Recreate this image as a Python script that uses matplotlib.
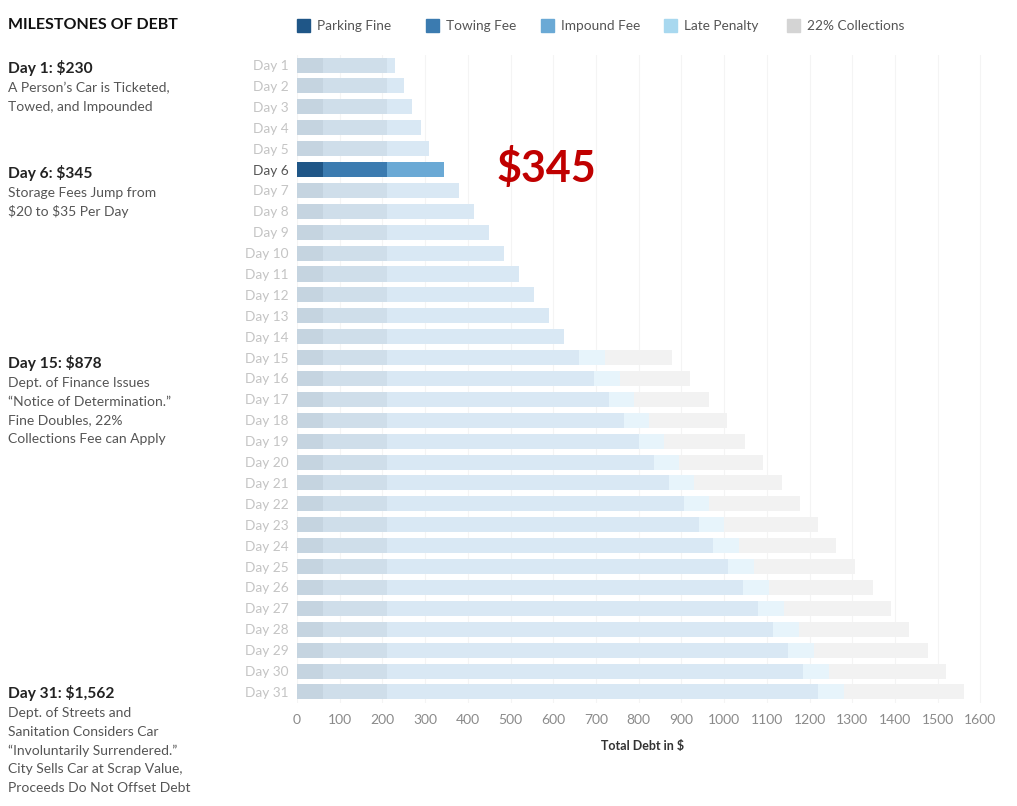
import matplotlib
matplotlib.use("Agg")
import matplotlib.pyplot as plt
from matplotlib.patches import Rectangle

plt.rcParams['font.family'] = ['Lato', 'DejaVu Sans']
plt.rcParams['text.parse_math'] = False

# --- data ---
days = [f"Day {i}" for i in range(1, 32)]
parking_fine = [60] * 31
towing_fee = [150] * 31
impound_fee = [20, 40, 60, 80, 100, 135, 170, 205, 240, 275, 310, 345, 380, 415,
               450, 485, 520, 555, 590, 625, 660, 695, 730, 765, 800, 835, 870,
               905, 940, 975, 1010]
late_penalty = [0] * 14 + [60] * 17
collections = [0] * 14 + [158.4, 166.1, 173.8, 181.5, 189.2, 196.9, 204.6, 212.3,
                          220.0, 227.7, 235.4, 243.1, 250.8, 258.5, 266.2, 273.9, 281.6]

series_names = ["Parking Fine", "Towing Fee", "Impound Fee", "Late Penalty", "22% Collections"]
full_colors = ["#1f5687", "#3b7bb0", "#6aa9d5", "#a8d8ef", "#d4d4d4"]
faded_colors = ["#c5d4e0", "#cfdeea", "#d9e8f4", "#e7f4fb", "#f2f2f2"]
highlight_day = 6

milestones = [
    ("Day 1: $230", ["A Person\u2019s Car is Ticketed,", "Towed, and Impounded"]),
    ("Day 6: $345", ["Storage Fees Jump from", "$20 to $35 Per Day"]),
    ("Day 15: $878", ["Dept. of Finance Issues", "\u201cNotice of Determination.\u201d",
                      "Fine Doubles, 22%", "Collections Fee can Apply"]),
    ("Day 31: $1,562", ["Dept. of Streets and", "Sanitation Considers Car",
                        "\u201cInvoluntarily Surrendered.\u201d",
                        "City Sells Car at Scrap Value,", "Proceeds Do Not Offset Debt"]),
]
milestone_y = [68, 173, 363, 693]

W, H = 1017, 806
fig = plt.figure(figsize=(W / 100, H / 100), dpi=100)
ax = fig.add_axes([297 / W, (H - 703) / H, 692 / W, 648 / H])

ypos = list(range(1, 32))
series = [parking_fine, towing_fee, impound_fee, late_penalty, collections]
left = [0.0] * 31
for k, vals in enumerate(series):
    cols = [full_colors[k] if d == highlight_day else faded_colors[k] for d in ypos]
    ax.barh(ypos, vals, left=left, height=0.72, color=cols, linewidth=0, zorder=2)
    left = [l + v for l, v in zip(left, vals)]

ax.set_xlim(0, 1620)
ax.set_ylim(31.53, 0.52)
ax.set_xticks(range(0, 1700, 100))
ax.tick_params(axis='x', length=0, labelsize=10, labelcolor="#8a8a8a", pad=8)
ax.set_yticks(ypos)
ax.set_yticklabels(days)
ax.tick_params(axis='y', length=0, labelsize=9.8, pad=6)
for d, lab in zip(ypos, ax.get_yticklabels()):
    lab.set_color("#555555" if d == highlight_day else "#c4c4c4")
ax.grid(axis='x', color="#f4f4f4", linewidth=0.8, zorder=0)
for s in ax.spines.values():
    s.set_visible(False)
ax.set_xlabel("Total Debt in $", fontsize=9, fontweight='bold', color="#333333", labelpad=10)

# big highlight value
fig.text(497 / W, 1 - 168 / H, "$345", fontsize=31, fontweight='bold', color="#c00000",
         va='center', ha='left')

# title
fig.text(8 / W, 1 - 25 / H, "MILESTONES OF DEBT", fontsize=11.5, fontweight='bold',
         color="#111111", va='center', ha='left')

# legend
legend_x = [297, 426, 541, 664, 787]
for name, col, lx in zip(series_names, full_colors, legend_x):
    fig.patches.append(Rectangle((lx / W, 1 - 32 / H), 13 / W, 13 / H,
                                 transform=fig.transFigure, color=col, figure=fig))
    fig.text((lx + 20) / W, 1 - 25.5 / H, name, fontsize=9.8, color="#555555",
             va='center', ha='left')

# milestone notes
for (head, lines), y in zip(milestones, milestone_y):
    fig.text(8 / W, 1 - y / H, head, fontsize=11.2, fontweight='bold', color="#222222",
             va='center', ha='left')
    for j, line in enumerate(lines):
        fig.text(8 / W, 1 - (y + 20 + j * 18.8) / H, line, fontsize=10,
                 color="#555555", va='center', ha='left')

fig.savefig("out.png", dpi=100, facecolor="white")
